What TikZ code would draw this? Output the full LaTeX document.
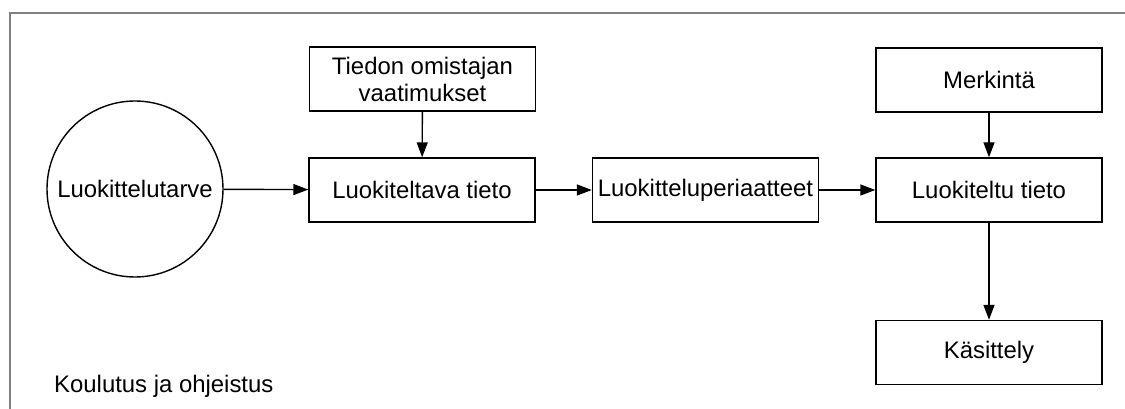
\documentclass[tikz,border=0pt]{standalone}
\usepackage{fontspec}
\setmainfont{Liberation Sans}
\usetikzlibrary{arrows.meta}
\begin{document}
\begin{tikzpicture}[x=1pt,y=-1pt,
  txt/.style={font=\fontsize{23.9}{27}\selectfont},
  box/.style={txt, draw, line width=1.4pt, minimum width=226pt, minimum height=64pt, inner sep=0pt, align=center},
  circ/.style={txt, draw, circle, line width=1.4pt, minimum size=176pt, inner sep=0pt},
  arr/.style={-{Triangle[length=15pt,width=11pt]}, line width=1.4pt},
  frame/.style={draw=gray, line width=1.6pt}]
\useasboundingbox (0,0) rectangle (1125,409);
\coordinate (fb) at (10,409);
\coordinate (fc) at (10,13);
\coordinate (fr) at (1126,13);
\draw[frame] (fb) -- (fc) -- (fr);
\node[circ] (tarve) at (135,189) {Luokittelutarve};
\node[box] (omistaja) at (422.5,79) {Tiedon omistajan\\vaatimukset};
\node[box] (luokiteltava) at (422,190) {Luokiteltava tieto};
\node[box] (periaatteet) at (705.5,190) {Luokitteluperiaatteet};
\node[box] (merkinta) at (989,80) {Merkintä};
\node[box] (luokiteltu) at (989,190) {Luokiteltu tieto};
\node[box] (kasittely) at (989,352.5) {Käsittely};
\node[txt, anchor=base west, inner sep=0pt] (koulutus) at (54,392) {Koulutus ja ohjeistus};
\draw[arr] (tarve) -- (luokiteltava);
\draw[arr] (omistaja) -- (luokiteltava);
\draw[arr] (luokiteltava) -- (periaatteet);
\draw[arr] (periaatteet) -- (luokiteltu);
\draw[arr] (merkinta) -- (luokiteltu);
\draw[arr] (luokiteltu) -- (kasittely);
\end{tikzpicture}
\end{document}
